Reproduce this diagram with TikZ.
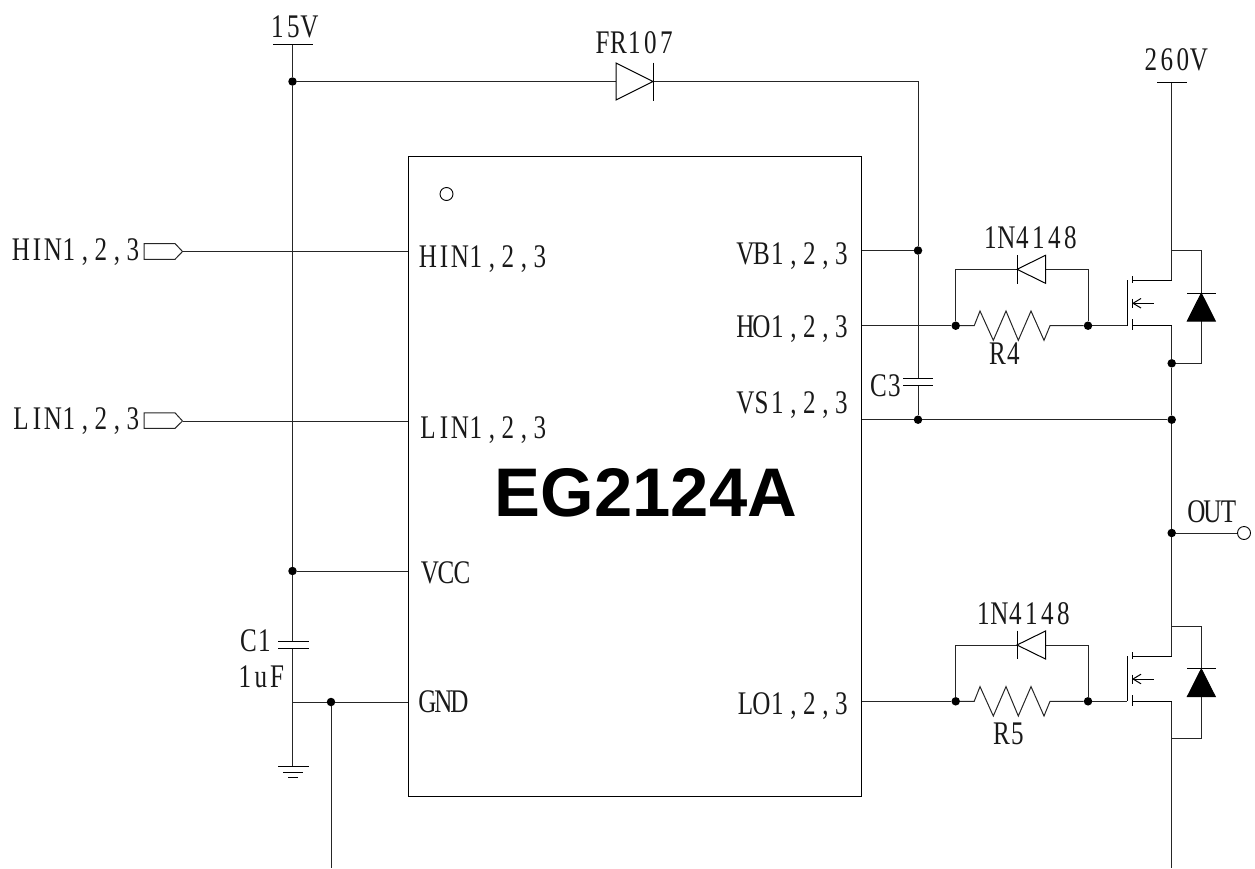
\documentclass[tikz,border=0pt]{standalone}
\usepackage{fontspec}
\setmainfont[FakeStretch=0.76]{Liberation Serif}
\newfontfamily\chipfont[FakeStretch=1]{Liberation Sans}
\makeatletter
\newcommand{\monotext}[1]{\@tfor\mono@c:=#1\do{\makebox[16pt][c]{\mono@c}}}
\makeatother
\tikzset{
  wire/.style={line width=1pt,black!85},
  thinwire/.style={line width=1pt,black},
  lbl/.style={inner sep=0pt,outer sep=0pt,text height=22pt,text depth=0pt,font=\fontsize{33}{33}\selectfont,black!90},
  dot/.style={circle,fill=black,draw=none,minimum size=8.5pt,inner sep=0pt},
  hollow/.style={circle,draw=black,line width=0.9pt,fill=white,minimum size=13pt,inner sep=0pt},
  chipbox/.style={draw=black,line width=1pt,fill=none},
  portshape/.style={draw=black!85,line width=1pt,fill=white},
  diodeopen/.style={draw=black,line width=1pt,fill=white},
  diodefill/.style={draw=black,line width=1pt,fill=black},
}
\begin{document}
\begin{tikzpicture}[x=1pt,y=-1pt]
\useasboundingbox (0,0) rectangle (1255,868);
% chip
\draw[chipbox] (408,156.5) rectangle (861.5,796);
\node[hollow] (pin1) at (446.5,194) {};
% anchors on the chip edge
\foreach \n/\x/\y in {eHIN/408/251.5,eLIN/408/421,eVCC/408/571,eGND/408/702,eVB/861.5/250.5,eHO/861.5/325.7,eVS/861.5/419.7,eLO/861.5/701.3}
  \coordinate (\n) at (\x,\y);
% junctions
\node[dot] (j15) at (292.5,81.5) {};
\node[dot] (jvcc) at (292.5,571) {};
\node[dot] (jgnd) at (331,702) {};
\node[dot] (jvb) at (918,250.5) {};
\node[dot] (jvs) at (918,419.7) {};
\node[dot] (jvsr) at (1171.7,419.7) {};
\node[dot] (jout) at (1171.7,533) {};
\node[dot] (jhsd) at (1171.7,363.3) {};
\node[dot] (ja) at (955.7,325.7) {};
\node[dot] (jb) at (1088,325.7) {};
\node[dot] (jc) at (955.7,701.3) {};
\node[dot] (jd) at (1088,701.3) {};
% coordinates
\coordinate (top15) at (292.5,44.5);
\coordinate (c1a) at (292.5,641);
\coordinate (c1b) at (292.5,648.5);
\coordinate (g1) at (292.5,766);
\coordinate (gtee) at (292.5,702);
\coordinate (gndout) at (331,868);
\coordinate (corner) at (918,81.5);
\coordinate (c3a) at (918,378.3);
\coordinate (c3b) at (918,385.7);
\coordinate (top260) at (1171.7,82);
\coordinate (qhd) at (1171.7,280.7);
\coordinate (qhs) at (1171.7,325.7);
\coordinate (qld) at (1171.7,656.3);
\coordinate (qls) at (1171.7,701.3);
\coordinate (rail) at (1171.7,868);
\coordinate (outend) at (1237.5,533);
% power rails
\draw[wire] (top15) -- (j15) -- (jvcc) -- (c1a);
\draw[wire] (c1b) -- (gtee) -- (g1);
\draw[wire] (gtee) -- (jgnd) -- (eGND);
\draw[wire] (jgnd) -- (gndout);
\draw[wire] (jvcc) -- (eVCC);
\draw[wire] (j15) -- (corner) -- (jvb) -- (c3a);
\draw[wire] (c3b) -- (jvs);
\draw[wire] (eVB) -- (jvb);
\draw[wire] (eVS) -- (jvs) -- (jvsr);
\draw[wire] (top260) -- (qhd);
\draw[wire] (qhs) -- (jhsd) -- (jvsr) -- (jout) -- (qld);
\draw[wire] (qls) -- (rail);
\draw[wire] (jout) -- (outend);
\node[hollow] (outpin) at (1244,533) {};
% bars
\draw[thinwire] (273,44.5) -- (313,44.5);
\draw[thinwire] (1157,82) -- (1187,82);
\draw[thinwire] (278,641) -- (309,641);
\draw[thinwire] (278,648.5) -- (309,648.5);
\draw[thinwire] (903,378.3) -- (933,378.3);
\draw[thinwire] (903,385.7) -- (933,385.7);
\draw[thinwire] (278,766) -- (309,766);
\draw[thinwire] (283,772) -- (303,772);
\draw[thinwire] (288,777) -- (298,777);
% inputs
\draw[portshape] (144,243.5) -- (175,243.5) -- (182.5,251.5) -- (175,259.3) -- (144,259.3) -- cycle;
\draw[wire] (182.5,251.5) -- (eHIN);
\draw[portshape] (144,412.8) -- (175,412.8) -- (182.5,421) -- (175,428.3) -- (144,428.3) -- cycle;
\draw[wire] (182.5,421) -- (eLIN);
% FR107
\draw[diodeopen] (616,63) -- (653,81.5) -- (616,100) -- cycle;
\draw[thinwire] (653,62.5) -- (653,100.5);
% high side
\draw[wire] (eHO) -- (ja);
\draw[wire] (ja) -- (974.2,325.7) -- (980,311) -- (993.3,340.3) -- (1006,311) -- (1018.3,340.3) -- (1031,311) -- (1044,340.3) -- (1050,325.7) -- (jb);
\draw[wire] (ja) -- (955.7,269.3) -- (1088,269.3) -- (jb);
\draw[diodeopen] (1017,269.3) -- (1045.5,255.3) -- (1045.5,283.3) -- cycle;
\draw[thinwire] (1017,255) -- (1017,283.5);
\draw[wire] (jb) -- (1127.3,325.7);
\draw[thinwire] (1127.3,280) -- (1127.3,325.7);
\draw[thinwire] (1132.5,276) -- (1132.5,283);
\draw[thinwire] (1132.5,298.5) -- (1132.5,307.5);
\draw[thinwire] (1132.5,319) -- (1132.5,330);
\draw[thinwire] (1132.5,280.7) -- (qhd);
\draw[thinwire] (1132.5,325.7) -- (qhs);
\draw[thinwire] (1153.5,303.3) -- (1133,303.3);
\draw[thinwire] (1141,298.5) -- (1133,303.3) -- (1141,308);
\draw[wire] (1171.7,250.7) -- (1201.3,250.7) -- (1201.3,363.3) -- (jhsd);
\draw[diodefill] (1201.3,293.3) -- (1215.3,321) -- (1187.3,321) -- cycle;
\draw[thinwire] (1187,293) -- (1215.7,293);
% low side
\draw[wire] (eLO) -- (jc);
\draw[wire] (jc) -- (974.2,701.3) -- (980,686.6) -- (993.3,716) -- (1006,686.6) -- (1018.3,716) -- (1031,686.6) -- (1044,716) -- (1050,701.3) -- (jd);
\draw[wire] (jc) -- (955.7,645) -- (1088,645) -- (jd);
\draw[diodeopen] (1017,645) -- (1045.5,631) -- (1045.5,659) -- cycle;
\draw[thinwire] (1017,630.7) -- (1017,659.3);
\draw[wire] (jd) -- (1127.3,701.3);
\draw[thinwire] (1127.3,656) -- (1127.3,701.3);
\draw[thinwire] (1132.5,652) -- (1132.5,659);
\draw[thinwire] (1132.5,674.5) -- (1132.5,683.5);
\draw[thinwire] (1132.5,695) -- (1132.5,706);
\draw[thinwire] (1132.5,656.3) -- (qld);
\draw[thinwire] (1132.5,701.3) -- (qls);
\draw[thinwire] (1153.5,679) -- (1133,679);
\draw[thinwire] (1141,674.2) -- (1133,679) -- (1141,683.8);
\draw[wire] (1171.7,626.3) -- (1201.3,626.3) -- (1201.3,738.7) -- (1171.7,738.7);
\draw[diodefill] (1201.3,669) -- (1215.3,696.7) -- (1187.3,696.7) -- cycle;
\draw[thinwire] (1187,668.7) -- (1215.7,668.7);
% labels
\node[lbl] (t15) at (293.5,26) {\monotext{15V}};
\node[lbl] (t260) at (1175,59) {\monotext{260V}};
\node[lbl] (tfr) at (634.5,42) {\monotext{FR107}};
\node[lbl] (thinl) at (77,249.5) {\monotext{HIN1,2,3}};
\node[lbl] (tlinl) at (77,418.5) {\monotext{LIN1,2,3}};
\node[lbl] (thin) at (484,256) {\monotext{HIN1,2,3}};
\node[lbl] (tlin) at (484,427.5) {\monotext{LIN1,2,3}};
\node[lbl] (tvcc) at (446,572) {\monotext{VCC}};
\node[lbl] (tgnd) at (443.5,701) {\monotext{GND}};
\node[lbl] (tvb) at (793.5,253) {\monotext{VB1,2,3}};
\node[lbl] (tho) at (793.5,326) {\monotext{HO1,2,3}};
\node[lbl] (tvs) at (793.5,402) {\monotext{VS1,2,3}};
\node[lbl] (tlo) at (793.5,703) {\monotext{LO1,2,3}};
\node[lbl] (tc1) at (256.5,640) {\monotext{C1}};
\node[lbl] (t1uf) at (261,676) {\monotext{1uF}};
\node[lbl] (tc3) at (886.5,385.5) {\monotext{C3}};
\node[lbl] (tdh) at (1030.5,237.5) {\monotext{1N4148}};
\node[lbl] (tdl) at (1023.5,613.5) {\monotext{1N4148}};
\node[lbl] (tr4) at (1005.5,353.5) {\monotext{R4}};
\node[lbl] (tr5) at (1009.5,733.5) {\monotext{R5}};
\node[lbl] (tout) at (1212.5,511) {\monotext{OUT}};
\node[inner sep=0pt,font=\chipfont\bfseries\fontsize{68.8}{68.8}\selectfont] (chipname) at (646,493) {EG2124A};
\end{tikzpicture}
\end{document}
